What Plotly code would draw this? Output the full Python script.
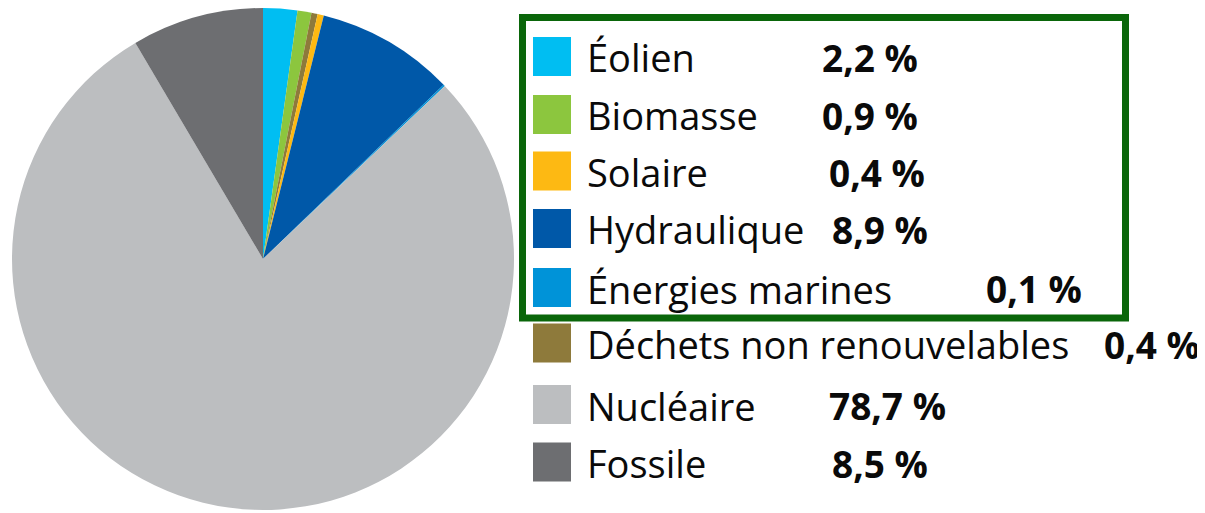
import plotly.graph_objects as go

# page body has an 8px margin, so the figure is sized to fit the window
OFF = 8
W, H = 1205 - OFF, 513 - OFF

# Data (pie order, clockwise from 12 o'clock)
pie_labels = ["Éolien", "Biomasse", "Déchets non renouvelables", "Solaire",
              "Hydraulique", "Énergies marines", "Nucléaire", "Fossile"]
pie_values = [2.2, 0.9, 0.4, 0.4, 8.9, 0.1, 78.7, 8.5]
pie_colors = ["#00BEF2", "#8CC63E", "#8E7A3B", "#FDB913",
              "#0058A8", "#0093D8", "#BCBEC0", "#6D6E71"]

# Legend order (as in the reference)
legend_labels = ["Éolien", "Biomasse", "Solaire", "Hydraulique", "Énergies marines",
                 "Déchets non renouvelables", "Nucléaire", "Fossile"]

def px_x(x):
    return (x - OFF) / W

def px_y(y):
    return 1 - (y - OFF) / H

fig = go.Figure()
fig.add_trace(go.Pie(
    labels=pie_labels, values=pie_values,
    marker=dict(colors=pie_colors, line=dict(width=0)),
    sort=False, direction="clockwise", rotation=0,
    textinfo="none", hoverinfo="label+percent", showlegend=False,
    domain=dict(x=[px_x(12), px_x(514)], y=[px_y(510), px_y(8)]),
))

# legend layout (pixel positions in the window)
row_y = [56.5, 114.5, 171, 228.5, 287.5, 343, 404.5, 462]
val_x = [823, 823, 830, 833, 987, 1105, 830, 833]
FONT = "Open Sans"
FS = 38

color_of = dict(zip(pie_labels, pie_colors))
value_of = dict(zip(pie_labels, pie_values))

shapes = []
annotations = []
for lab, yc, vx in zip(legend_labels, row_y, val_x):
    shapes.append(dict(type="rect", xref="paper", yref="paper",
                       x0=px_x(533), x1=px_x(571), y0=px_y(yc + 19.5), y1=px_y(yc - 19.5),
                       fillcolor=color_of[lab], line=dict(width=0)))
    annotations.append(dict(xref="paper", yref="paper", x=px_x(585), y=px_y(yc + 1),
                            xanchor="left", yanchor="middle", showarrow=False,
                            text=lab, font=dict(family=FONT, size=FS, color="#0A0A0A")))
    val_txt = f"{value_of[lab]:.1f}".replace(".", ",") + " %"
    annotations.append(dict(xref="paper", yref="paper", x=px_x(vx - 3), y=px_y(yc + 1),
                            xanchor="left", yanchor="middle", showarrow=False,
                            text="<b>" + val_txt + "</b>",
                            font=dict(family=FONT, size=FS - 1, color="#0A0A0A")))

# green frame around renewable energies
shapes.append(dict(type="rect", xref="paper", yref="paper",
                   x0=px_x(522.5), x1=px_x(1125.5), y0=px_y(318), y1=px_y(17.5),
                   line=dict(color="#0A660A", width=7), fillcolor="rgba(0,0,0,0)",
                   layer="above"))

fig.update_layout(
    width=W, height=H,
    margin=dict(l=0, r=0, t=0, b=0),
    paper_bgcolor="white", plot_bgcolor="white",
    shapes=shapes, annotations=annotations,
)

fig.write_html("out.html")
